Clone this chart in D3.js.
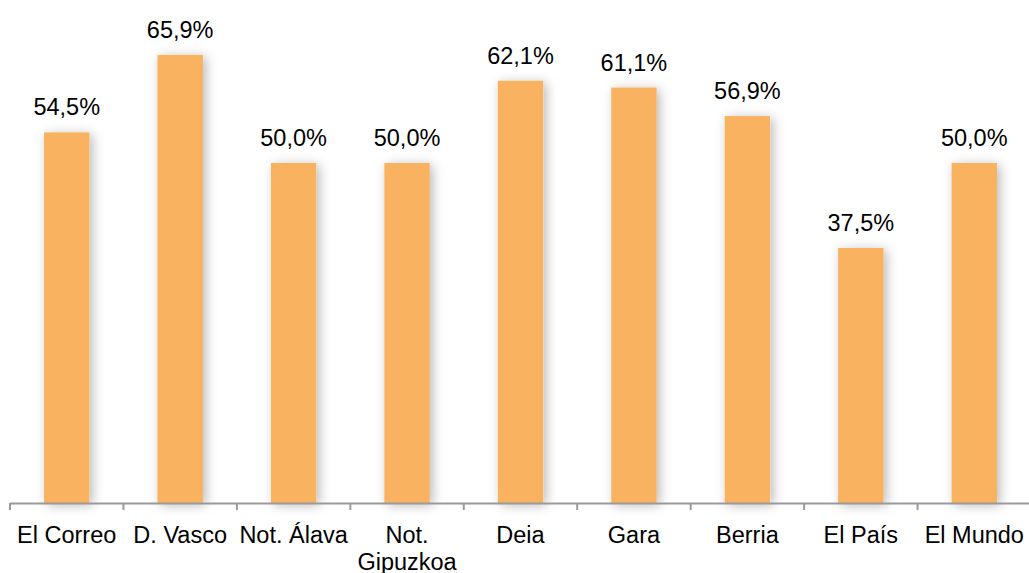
<!DOCTYPE html>
<meta charset="utf-8">
<script src="https://d3js.org/d3.v7.min.js"></script>
<style>
  body { margin: 0; background: #fff; }
  text { font-family: "Liberation Sans", Arial, sans-serif; fill: #000; }
</style>
<body>
<div id="chart"></div>
<script>
// data
const categories = ["El Correo", "D. Vasco", "Not. Álava", "Not. Gipuzkoa", "Deia", "Gara", "Berria", "El País", "El Mundo"];
const values = [54.5, 65.9, 50.0, 50.0, 62.1, 61.1, 56.9, 37.5, 50.0];
const valueLabels = ["54,5%", "65,9%", "50,0%", "50,0%", "62,1%", "61,1%", "56,9%", "37,5%", "50,0%"];

const data = categories.map((c, i) => ({cat: c, val: values[i], label: valueLabels[i]}));

const W = 1029, H = 573;
const baseY = 503;

const svg = d3.select("#chart").append("svg")
  .attr("width", W)
  .attr("height", H);

// soft shadow behind bars
const defs = svg.append("defs");
const f = defs.append("filter").attr("id", "shadow")
  .attr("x", "-60%").attr("y", "-20%").attr("width", "220%").attr("height", "140%");
f.append("feDropShadow")
  .attr("dx", 3).attr("dy", 2)
  .attr("stdDeviation", 6)
  .attr("flood-color", "#000")
  .attr("flood-opacity", 0.28);

const x = d3.scaleBand()
  .domain(categories)
  .range([10, 1031])
  .paddingInner(0.6)
  .paddingOuter(0.3);

const y = d3.scaleLinear()
  .domain([0, 70])
  .range([baseY, baseY - 476]);

// bars
svg.selectAll("rect.bar")
  .data(data)
  .join("rect")
    .attr("class", "bar")
    .attr("x", d => x(d.cat))
    .attr("y", d => y(d.val))
    .attr("width", x.bandwidth())
    .attr("height", d => y(0) - y(d.val))
    .attr("fill", "#F9B25F")
    .attr("filter", "url(#shadow)");

// value labels
svg.selectAll("text.val")
  .data(data)
  .join("text")
    .attr("class", "val")
    .attr("x", d => x(d.cat) + x.bandwidth() / 2)
    .attr("y", d => y(d.val) - 17)
    .attr("text-anchor", "middle")
    .style("font-size", "23.5px")
    .text(d => d.label);

// x axis
const step = x.step();
const edges = d3.range(categories.length + 1).map(i => x(categories[0]) - x.paddingOuter() * step + i * step);
const ax = svg.append("g");
ax.append("line")
  .attr("x1", 10).attr("x2", W)
  .attr("y1", baseY + 0.5).attr("y2", baseY + 0.5)
  .attr("stroke", "#9a9a9a").attr("stroke-width", 2);
ax.selectAll("line.tick")
  .data(edges)
  .join("line")
    .attr("class", "tick")
    .attr("x1", d => d).attr("x2", d => d)
    .attr("y1", baseY).attr("y2", baseY + 7)
    .attr("stroke", "#9a9a9a").attr("stroke-width", 2);

// category labels, wrapping the long one
const catLines = {"Not. Gipuzkoa": ["Not.", "Gipuzkoa"]};
ax.selectAll("text.cat")
  .data(categories)
  .join("text")
    .attr("class", "cat")
    .attr("x", d => x(d) + x.bandwidth() / 2)
    .attr("y", 543)
    .attr("text-anchor", "middle")
    .style("font-size", "23.5px")
    .each(function(d) {
      const lines = catLines[d] || [d];
      const t = d3.select(this);
      lines.forEach((l, i) => {
        t.append("tspan")
          .attr("x", x(d) + x.bandwidth() / 2)
          .attr("dy", i === 0 ? 0 : 27)
          .text(l);
      });
    });
</script>
</body>
